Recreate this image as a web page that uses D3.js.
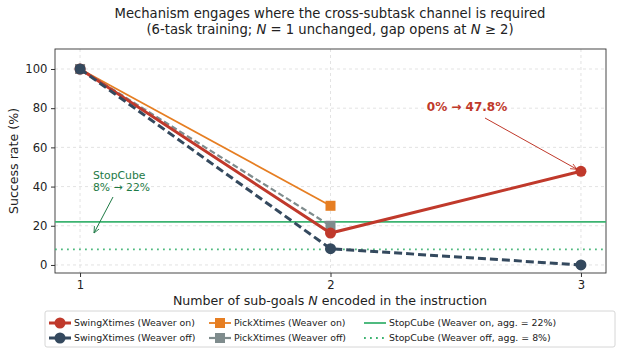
<!DOCTYPE html>
<html><head><meta charset="utf-8">
<script src="https://cdn.jsdelivr.net/npm/d3@7"></script>
<style>body{margin:0;background:#fff}svg{font-family:"DejaVu Sans",sans-serif}</style>
</head><body>
<svg id="c" width="622" height="354"></svg>
<script>
const nValues = [1, 2, 3];
const swingOn = [100, 16.3, 47.8];
const swingOff = [100, 8.3, 0];
const pickNValues = [1, 2];
const pickOn = [100, 30.2];
const pickOff = [100, 20];
const stopCubeOn = 22;
const stopCubeOff = 8;
const yTicks = [0, 20, 40, 60, 80, 100];
const xTicks = [1, 2, 3];

const svg = d3.select("#c");
const M = {l: 55, r: 606, t: 49, b: 273};
const x = d3.scaleLinear().domain([0.9, 3.1]).range([M.l, M.r]);
const y = d3.scaleLinear().domain([-4.1, 110.2]).range([M.b, M.t]);

// grid
svg.append("g").selectAll("line").data(yTicks).join("line")
  .attr("x1", M.l).attr("x2", M.r).attr("y1", d => y(d)).attr("y2", d => y(d))
  .attr("stroke", "#dcdcdc").attr("stroke-width", 0.8).attr("stroke-dasharray", "3,3");
svg.append("g").selectAll("line").data(xTicks).join("line")
  .attr("y1", M.t).attr("y2", M.b).attr("x1", d => x(d)).attr("x2", d => x(d))
  .attr("stroke", "#dcdcdc").attr("stroke-width", 0.8).attr("stroke-dasharray", "3,3");

// axes
const ya = svg.append("g").attr("transform", `translate(${M.l},0)`)
  .call(d3.axisLeft(y).tickValues(yTicks).tickSize(4).tickPadding(3.5));
const xa = svg.append("g").attr("transform", `translate(0,${M.b})`)
  .call(d3.axisBottom(x).tickValues(xTicks).tickSize(4).tickPadding(3.5).tickFormat(d3.format("d")));
[ya, xa].forEach(a => {
  a.select(".domain").remove();
  a.selectAll("text").attr("font-size", 11.6).attr("fill", "#222").attr("font-family", "DejaVu Sans");
  a.selectAll("line").attr("stroke", "#333");
});
// frame
svg.append("rect").attr("x", M.l).attr("y", M.t).attr("width", M.r - M.l).attr("height", M.b - M.t)
  .attr("fill", "none").attr("stroke", "#333").attr("stroke-width", 0.9);

// stopcube lines
svg.append("line").attr("x1", M.l).attr("x2", M.r).attr("y1", y(stopCubeOn)).attr("y2", y(stopCubeOn))
  .attr("stroke", "#3cb371").attr("stroke-width", 1.8);
svg.append("line").attr("x1", M.l).attr("x2", M.r).attr("y1", y(stopCubeOff)).attr("y2", y(stopCubeOff))
  .attr("stroke", "#3cb371").attr("stroke-width", 1.8).attr("stroke-dasharray", "1.8,4.2").attr("stroke-opacity", 0.9);

const line = d3.line().x(d => x(d[0])).y(d => y(d[1]));
function series(xs, ys, color, width, dash, marker, size) {
  const pts = xs.map((v, i) => [v, ys[i]]);
  const p = svg.append("path").datum(pts).attr("d", line).attr("fill", "none")
    .attr("stroke", color).attr("stroke-width", width);
  if (dash) p.attr("stroke-dasharray", dash);
  if (marker === "circle") {
    svg.append("g").selectAll("circle").data(pts).join("circle")
      .attr("cx", d => x(d[0])).attr("cy", d => y(d[1])).attr("r", size).attr("fill", color);
  } else {
    svg.append("g").selectAll("rect").data(pts).join("rect")
      .attr("x", d => x(d[0]) - size).attr("y", d => y(d[1]) - size)
      .attr("width", size * 2).attr("height", size * 2).attr("fill", color);
  }
}
series(pickNValues, pickOn, "#e67e22", 1.8, null, "square", 5);
series(pickNValues, pickOff, "#7f8c8d", 2.2, "6,3", "square", 5);
series(nValues, swingOn, "#c0392b", 3, null, "circle", 5.5);
series(nValues, swingOff, "#34495e", 3, "8,4", "circle", 5.5);

// annotations
const defs = svg.append("defs");
function arrowHead(id, color) {
  defs.append("marker").attr("id", id).attr("viewBox", "0 0 10 10").attr("refX", 9).attr("refY", 5)
    .attr("markerWidth", 7).attr("markerHeight", 7).attr("orient", "auto")
    .append("path").attr("d", "M0,1 L9,5 L0,9").attr("fill", "none").attr("stroke", color).attr("stroke-width", 1.2);
}
arrowHead("ar", "#c0392b");
arrowHead("ag", "#1e7a45");
svg.append("text").attr("x", 467).attr("y", 111).attr("text-anchor", "middle")
  .attr("font-size", 12).attr("font-weight", "bold").attr("fill", "#c0392b").text("0% → 47.8%");
svg.append("line").attr("x1", 485).attr("y1", 118).attr("x2", x(3) - 4).attr("y2", y(swingOn[2]) - 2)
  .attr("stroke", "#c0392b").attr("stroke-width", 1).attr("marker-end", "url(#ar)");
svg.append("text").attr("x", 93).attr("y", 179).attr("font-size", 10.8).attr("fill", "#1e7a45").text("StopCube");
svg.append("text").attr("x", 93).attr("y", 191).attr("font-size", 10.8).attr("fill", "#1e7a45").text("8% → 22%");
svg.append("line").attr("x1", 113).attr("y1", 197).attr("x2", 94).attr("y2", 233)
  .attr("stroke", "#1e7a45").attr("stroke-width", 1).attr("marker-end", "url(#ag)");

// titles
svg.append("text").attr("x", 330).attr("y", 18).attr("text-anchor", "middle").attr("font-size", 13.2)
  .attr("fill", "#222").text("Mechanism engages where the cross-subtask channel is required");
const t2 = svg.append("text").attr("x", 330).attr("y", 34).attr("text-anchor", "middle").attr("font-size", 13.2).attr("fill", "#222");
t2.append("tspan").text("(6-task training; ");
t2.append("tspan").attr("font-style", "italic").text("N");
t2.append("tspan").text(" = 1 unchanged, gap opens at ");
t2.append("tspan").attr("font-style", "italic").text("N");
t2.append("tspan").text(" ≥ 2)");
const xl = svg.append("text").attr("x", 330).attr("y", 305).attr("text-anchor", "middle").attr("font-size", 12.6).attr("fill", "#222");
xl.append("tspan").text("Number of sub-goals ");
xl.append("tspan").attr("font-style", "italic").text("N");
xl.append("tspan").text(" encoded in the instruction");
svg.append("text").attr("transform", `translate(18,${(M.t + M.b) / 2}) rotate(-90)`).attr("text-anchor", "middle")
  .attr("font-size", 12.6).attr("fill", "#222").text("Success rate (%)");

// legend
const lg = svg.append("g");
lg.append("rect").attr("x", 45).attr("y", 311).attr("width", 570).attr("height", 36).attr("rx", 2)
  .attr("fill", "#fff").attr("stroke", "#ccc").attr("stroke-width", 0.8);
const legendItems = [
  {c: 0, r: 0, label: "SwingXtimes (Weaver on)", color: "#c0392b", w: 3, dash: null, m: "circle"},
  {c: 0, r: 1, label: "SwingXtimes (Weaver off)", color: "#34495e", w: 3, dash: null, m: "circle"},
  {c: 1, r: 0, label: "PickXtimes (Weaver on)", color: "#e67e22", w: 1.8, dash: null, m: "square"},
  {c: 1, r: 1, label: "PickXtimes (Weaver off)", color: "#7f8c8d", w: 2.2, dash: null, m: "square"},
  {c: 2, r: 0, label: "StopCube (Weaver on, agg. = 22%)", color: "#3cb371", w: 1.8, dash: null, m: null},
  {c: 2, r: 1, label: "StopCube (Weaver off, agg. = 8%)", color: "#3cb371", w: 1.8, dash: "1.8,4.2", m: null}
];
const colX = [49, 209, 364];
legendItems.forEach(it => {
  const x0 = colX[it.c], yy = 323 + it.r * 15;
  const l = lg.append("line").attr("x1", x0).attr("x2", x0 + 22).attr("y1", yy).attr("y2", yy)
    .attr("stroke", it.color).attr("stroke-width", it.w);
  if (it.dash) l.attr("stroke-dasharray", it.dash);
  if (it.m === "circle") lg.append("circle").attr("cx", x0 + 11).attr("cy", yy).attr("r", 5.5).attr("fill", it.color);
  if (it.m === "square") lg.append("rect").attr("x", x0 + 6).attr("y", yy - 5).attr("width", 10).attr("height", 10).attr("fill", it.color);
  lg.append("text").attr("x", x0 + 25).attr("y", yy + 3.4).attr("font-size", 9.4).attr("fill", "#222").text(it.label);
});
</script>
</body></html>
